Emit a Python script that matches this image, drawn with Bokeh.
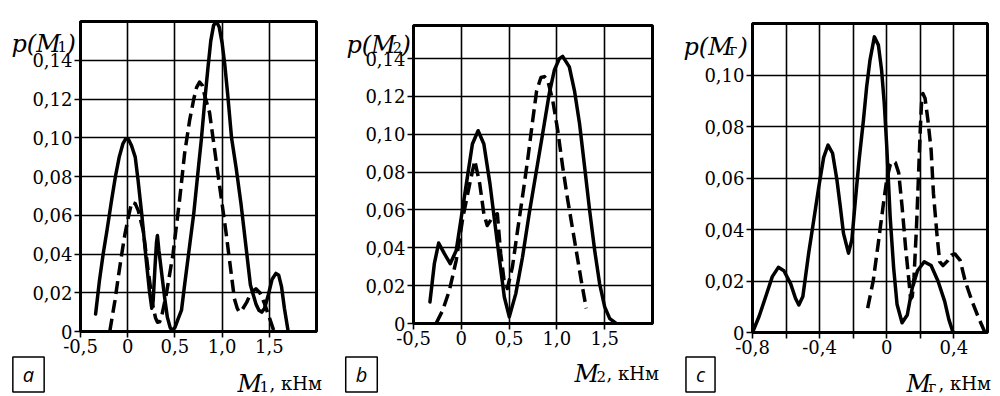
from bokeh.plotting import figure
from bokeh.models import Range1d, FixedTicker, Label, GridBox
from bokeh.embed import file_html
from bokeh.resources import INLINE

# ---------------- data ----------------
# panel a : p(M1)
a_solid_x = [-0.34, -0.30, -0.26, -0.22, -0.17, -0.13, -0.09, -0.05, -0.02, 0.01, 0.04, 0.08,
             0.11, 0.15, 0.20, 0.23, 0.255, 0.27, 0.29, 0.305, 0.315, 0.33, 0.36, 0.39, 0.42,
             0.45, 0.47, 0.50, 0.53, 0.57, 0.60, 0.65, 0.70, 0.75, 0.78, 0.82, 0.85, 0.88, 0.91,
             0.94, 0.97, 1.00, 1.03, 1.06, 1.10, 1.15, 1.20, 1.25, 1.30, 1.33, 1.36, 1.39, 1.42,
             1.45, 1.49, 1.53, 1.57, 1.60, 1.63, 1.66, 1.70]
a_solid_y = [0.009, 0.026, 0.040, 0.052, 0.068, 0.080, 0.090, 0.097, 0.0995, 0.099, 0.096, 0.090,
             0.078, 0.060, 0.035, 0.021, 0.012, 0.016, 0.034, 0.046, 0.0495, 0.042, 0.030, 0.018,
             0.0074, 0.002, 0.0005, 0.002, 0.006, 0.011, 0.023, 0.042, 0.061, 0.085, 0.099, 0.121,
             0.136, 0.150, 0.158, 0.160, 0.157, 0.149, 0.137, 0.122, 0.100, 0.084, 0.066, 0.045,
             0.024, 0.019, 0.014, 0.011, 0.010, 0.012, 0.019, 0.027, 0.030, 0.029, 0.023, 0.012, 0.000]
a_dash_x = [-0.19, -0.135, -0.10, -0.063, -0.03, 0.007, 0.042, 0.08, 0.112, 0.165, 0.218, 0.27,
            0.295, 0.316, 0.338, 0.358, 0.41, 0.48, 0.55, 0.603, 0.656, 0.70, 0.73, 0.761, 0.79,
            0.82, 0.867, 0.954, 1.042, 1.13, 1.16, 1.182, 1.21, 1.26, 1.305, 1.358, 1.40, 1.445,
            1.516, 1.55]
a_dash_y = [0.0, 0.016, 0.028, 0.040, 0.050, 0.059, 0.0667, 0.066, 0.0624, 0.052, 0.031, 0.0125,
            0.007, 0.0048, 0.005, 0.0074, 0.0195, 0.040, 0.068, 0.092, 0.109, 0.120, 0.126, 0.1287,
            0.127, 0.121, 0.113, 0.082, 0.051, 0.017, 0.012, 0.010, 0.011, 0.015, 0.020, 0.022,
            0.020, 0.015, 0.005, 0.0]

# panel b : p(M2)
b_solid_x = [-0.328, -0.282, -0.237, -0.177, -0.116, -0.053, 0.0, 0.053, 0.116, 0.176, 0.236,
             0.30, 0.352, 0.405, 0.45, 0.502, 0.57, 0.64, 0.71, 0.78, 0.85, 0.92, 0.974, 1.026,
             1.06, 1.13, 1.184, 1.237, 1.29, 1.342, 1.395, 1.447, 1.5, 1.553, 1.62]
b_solid_y = [0.0114, 0.0316, 0.0425, 0.0369, 0.0316, 0.0386, 0.0562, 0.0738, 0.0949, 0.1019,
             0.0949, 0.0738, 0.0527, 0.0316, 0.014, 0.0035, 0.0158, 0.035, 0.058, 0.079, 0.100,
             0.1215, 0.134, 0.140, 0.1412, 0.1356, 0.123, 0.1056, 0.0827, 0.0599, 0.0387, 0.021,
             0.0088, 0.0026, 0.0]
b_dash_x = [-0.264, -0.194, -0.124, -0.053, 0.017, 0.088, 0.141, 0.193, 0.236, 0.271, 0.328,
            0.377, 0.412, 0.447, 0.482, 0.535, 0.588, 0.64, 0.693, 0.746, 0.788, 0.833, 0.87,
            0.904, 0.956, 1.009, 1.06, 1.114, 1.184, 1.254, 1.307]
b_dash_y = [0.0, 0.007, 0.0176, 0.0334, 0.0562, 0.0738, 0.0861, 0.0738, 0.058, 0.0518, 0.0562,
            0.058, 0.037, 0.023, 0.0185, 0.030, 0.049, 0.067, 0.086, 0.107, 0.123, 0.130, 0.1305,
            0.1285, 0.118, 0.102, 0.083, 0.065, 0.044, 0.0229, 0.008]

# panel c : p(Mг)
c_solid_x = [-0.8, -0.761, -0.721, -0.682, -0.646, -0.613, -0.573, -0.544, -0.524, -0.50, -0.465,
             -0.435, -0.405, -0.376, -0.35, -0.323, -0.297, -0.277, -0.258, -0.228, -0.208, -0.189,
             -0.165, -0.139, -0.12, -0.10, -0.074, -0.05, -0.031, -0.015, 0.0, 0.02, 0.041, 0.061,
             0.091, 0.122, 0.152, 0.183, 0.223, 0.264, 0.305, 0.345, 0.37, 0.395]
c_solid_y = [0.0, 0.0062, 0.014, 0.0217, 0.0253, 0.024, 0.019, 0.0133, 0.0107, 0.014, 0.031,
             0.0437, 0.0566, 0.068, 0.0728, 0.0696, 0.0592, 0.0489, 0.0385, 0.0308, 0.036, 0.050,
             0.067, 0.0825, 0.0954, 0.1058, 0.1148, 0.1116, 0.1019, 0.089, 0.072, 0.045, 0.025,
             0.011, 0.0038, 0.0068, 0.0174, 0.024, 0.0275, 0.026, 0.020, 0.0121, 0.005, 0.0]
c_dash_x = [-0.114, -0.081, -0.051, -0.02, 0.0, 0.02, 0.035, 0.051, 0.071, 0.091, 0.112, 0.132,
            0.142, 0.152, 0.162, 0.177, 0.189, 0.199, 0.207, 0.215, 0.228, 0.244, 0.264, 0.278,
            0.299, 0.315, 0.335, 0.365, 0.385, 0.406, 0.437, 0.467, 0.508, 0.548, 0.585]
c_dash_y = [0.0095, 0.020, 0.0345, 0.050, 0.0595, 0.065, 0.0665, 0.066, 0.062, 0.049, 0.033, 0.020,
            0.013, 0.014, 0.0213, 0.041, 0.061, 0.078, 0.089, 0.0928, 0.091, 0.083, 0.071, 0.054,
            0.038, 0.0275, 0.026, 0.028, 0.030, 0.0305, 0.028, 0.020, 0.0121, 0.0055, 0.0]

# ticks and labels
ab_x_ticks = [-0.5, 0, 0.5, 1.0, 1.5]
ab_x_labels = ["-0,5", "0", "0,5", "1,0", "1,5"]
ab_y_ticks = [0, 0.02, 0.04, 0.06, 0.08, 0.1, 0.12, 0.14]
ab_y_labels = ["0", "0,02", "0,04", "0,06", "0,08", "0,10", "0,12", "0,14"]
c_x_ticks = [-0.8, -0.6, -0.4, -0.2, 0, 0.2, 0.4]
c_x_labels = ["-0,8", "", "-0,4", "", "0", "", "0,4"]
c_y_ticks = [0, 0.02, 0.04, 0.06, 0.08, 0.1]
c_y_labels = ["0", "0,02", "0,04", "0,06", "0,08", "0,10"]

panel_letters = ["a", "b", "c"]
subscripts = ["1", "2", "г"]
unit_text = ", кНм"

SERIF = "DejaVu Serif"
PAGE_W, PAGE_H = 1000, 396


def make_panel(fig_left, fig_w, frame, xr, yr, xt, xl, yt, yl):
    fl, fr, ft, fb = frame  # page pixels of the frame
    p = figure(width=fig_w, height=PAGE_H, x_range=Range1d(*xr), y_range=Range1d(*yr),
               output_backend="svg", toolbar_location=None, title=None,
               min_border_left=fl - fig_left, min_border_right=fig_left + fig_w - fr,
               min_border_top=ft, min_border_bottom=PAGE_H - fb)
    p.frame_align = False
    p.background_fill_color = "white"
    p.border_fill_color = "white"
    p.outline_line_color = "black"
    p.outline_line_width = 3
    for g in (p.xgrid, p.ygrid):
        g.grid_line_color = "black"
        g.grid_line_width = 1.6
    p.xaxis.ticker = FixedTicker(ticks=xt)
    p.yaxis.ticker = FixedTicker(ticks=yt)
    p.xaxis.major_label_overrides = dict(zip(xt, xl))
    p.yaxis.major_label_overrides = dict(zip(yt, yl))
    for ax in (p.xaxis, p.yaxis):
        ax.axis_line_width = 3
        ax.axis_line_color = "black"
        ax.major_tick_line_color = "black"
        ax.major_tick_line_width = 1.6
        ax.major_tick_out = 6
        ax.major_tick_in = 0
        ax.minor_tick_line_color = None
        ax.major_label_text_font = SERIF
        ax.major_label_text_font_size = "18px"
        ax.major_label_text_color = "black"
    p.yaxis.major_label_standoff = 2
    p.xaxis.major_label_standoff = 1
    return p


# transparent overlay spanning the three panels, in page-pixel coordinates, for the titles
ov = figure(width=PAGE_W, height=PAGE_H, x_range=Range1d(0, PAGE_W), y_range=Range1d(PAGE_H, 0),
            output_backend="svg", toolbar_location=None, title=None,
            x_axis_type=None, y_axis_type=None,
            min_border_left=0, min_border_right=0, min_border_top=0, min_border_bottom=0)
ov.frame_align = False
ov.grid.visible = False
ov.outline_line_color = None
ov.background_fill_alpha = 0
ov.border_fill_alpha = 0


def txt(px, py, s, size, style="normal", font=SERIF):
    ov.add_layout(Label(x=px, y=py, text=s, text_font=font,
                        text_font_size=f"{size}px", text_font_style=style,
                        text_color="black", text_baseline="alphabetic", text_align="left"))


panels = []
specs = [
    (0, 330, (80, 316, 21, 331), (-0.5, 2.0), (0, 0.16), ab_x_ticks, ab_x_labels, ab_y_ticks, ab_y_labels,
     (11, 43), (237, 383), (28, 374),
     (a_solid_x, a_solid_y), (a_dash_x, a_dash_y)),
    (330, 330, (413, 652, 25, 323), (-0.5, 2.0), (0, 0.1575), ab_x_ticks, ab_x_labels, ab_y_ticks, ab_y_labels,
     (346, 44), (574, 373), (361, 374),
     (b_solid_x, b_solid_y), (b_dash_x, b_dash_y)),
    (660, 340, (752, 987, 23, 332), (-0.8, 0.6), (0, 0.12), c_x_ticks, c_x_labels, c_y_ticks, c_y_labels,
     (683, 46), (906, 383), (700, 374),
     (c_solid_x, c_solid_y), (c_dash_x, c_dash_y)),
]

for i, (fleft, fw, frame, xr, yr, xt, xl, yt, yl, tpos, apos, bpos, sol, dsh) in enumerate(specs):
    p = make_panel(fleft, fw, frame, xr, yr, xt, xl, yt, yl)
    p.line(sol[0], sol[1], line_color="black", line_width=3.5, line_join="round", line_cap="round")
    p.line(dsh[0], dsh[1], line_color="black", line_width=3.5, line_dash="13 6", line_join="round")

    # y title p(M_i)
    tx, ty = tpos
    txt(tx, ty, "p(M", 24, "italic")
    txt(tx + 46, ty + 3, subscripts[i], 15)
    txt(tx + 55, ty, ")", 24, "italic")

    # x title M_i, кНм
    ax_, ay_ = apos
    txt(ax_, ay_, "M", 24, "italic")
    txt(ax_ + 22, ay_ + 3, subscripts[i], 15)
    txt(ax_ + 32, ay_, unit_text, 18)

    # panel letter box
    bx, by = bpos
    ov.add_layout(Label(x=bx, y=by, text=panel_letters[i], text_font="Open Sans",
                        text_font_size="20px", text_font_style="italic", text_color="black",
                        text_align="center", text_baseline="middle",
                        border_line_color="black", border_line_width=1.5,
                        background_fill_color="white", padding=(10, 4)))
    panels.append(p)

layout = GridBox(children=[(panels[0], 0, 0), (panels[1], 0, 1), (panels[2], 0, 2), (ov, 0, 0, 1, 3)])
open("out.html", "w").write(file_html(layout, INLINE))
